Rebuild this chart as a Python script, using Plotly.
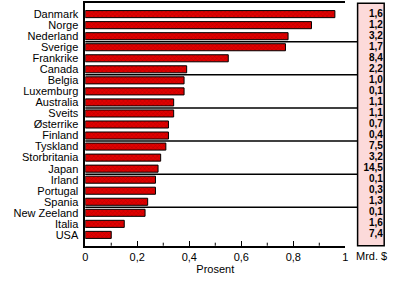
import plotly.graph_objects as go

countries = ["Danmark", "Norge", "Nederland", "Sverige", "Frankrike", "Canada", "Belgia",
             "Luxemburg", "Australia", "Sveits", "Østerrike", "Finland", "Tyskland",
             "Storbritania", "Japan", "Irland", "Portugal", "Spania", "New Zeeland",
             "Italia", "USA"]
prosent = [0.96, 0.87, 0.78, 0.77, 0.55, 0.39, 0.38, 0.38, 0.34, 0.34, 0.32, 0.32, 0.31,
           0.29, 0.28, 0.27, 0.27, 0.24, 0.23, 0.15, 0.10]
mrd = [1.6, 1.2, 3.2, 1.7, 8.4, 2.2, 1.0, 0.1, 1.1, 1.1, 0.7, 0.4, 7.5, 3.2, 14.5, 0.1,
       0.3, 1.3, 0.1, 1.6, 7.4]
x_ticks = [0, 0.2, 0.4, 0.6, 0.8, 1]
separators_after = [2, 5, 8, 11, 14, 17]

W, H = 400, 283
px = lambda v: v / W
py = lambda v: 1 - v / H

x0, x1 = 83.5, 347.5
bx0, bx1 = 360, 387
ytop, ybot = 3.3, 245.7

fig = go.Figure()
fig.add_trace(go.Bar(
    x=prosent, y=countries, orientation="h", width=0.64,
    marker=dict(color="#c80000", line=dict(color="black", width=1),
                pattern=dict(shape="x", fgcolor="#8a0000", bgcolor="#e00000", size=3, solidity=0.3)),
    showlegend=False, hoverinfo="skip"))
fig.add_trace(go.Scatter(
    x=[0.95] * len(mrd), y=countries, xaxis="x2", yaxis="y",
    mode="text", text=[f"{v:.1f}".replace(".", ",") for v in mrd],
    textposition="middle left",
    textfont=dict(family="Liberation Sans Narrow, Liberation Sans", size=10, color="black", weight="bold"),
    showlegend=False, hoverinfo="skip"))

shapes = []
shapes.append(dict(type="rect", xref="paper", yref="paper",
                   x0=px(bx0), x1=px(bx1), y0=py(ybot), y1=py(ytop),
                   fillcolor="#fcdada", line=dict(color="black", width=1.5), layer="below"))
for s in separators_after:
    shapes.append(dict(type="line", xref="paper", yref="y",
                       x0=px(x0), x1=px(bx0), y0=s + 0.5, y1=s + 0.5,
                       line=dict(color="black", width=1.5)))
for t in [0.1, 0.3, 0.5, 0.7, 0.9]:
    shapes.append(dict(type="line", xref="x", yref="paper", x0=t, x1=t,
                       y0=py(ybot), y1=py(ybot - 3), line=dict(color="black", width=1)))

fig.update_layout(
    width=W, height=H, margin=dict(l=0, r=0, t=0, b=0),
    paper_bgcolor="white", plot_bgcolor="white",
    separators=", ",
    font=dict(family="Liberation Sans", size=11, color="black"),
    xaxis=dict(domain=[px(x0), px(x1)], range=[0, 1], tickvals=x_ticks,
               ticks="inside", ticklen=5, tickwidth=1, tickcolor="black",
               showgrid=False, zeroline=False, showline=True, linecolor="black",
               linewidth=1.5, mirror=True,
               tickfont=dict(size=11),
               title=dict(text="Prosent", font=dict(size=11), standoff=4)),
    xaxis2=dict(domain=[px(bx0), px(bx1)], range=[0, 1], visible=False,
                anchor="y"),
    yaxis=dict(domain=[py(ybot), py(ytop)], range=[20.98, -0.98],
               type="category", categoryorder="array", categoryarray=countries,
               tickmode="array", tickvals=countries, ticktext=countries,
               showgrid=False, zeroline=False, ticks="", showline=True,
               linecolor="black", linewidth=1.5, ticklabelstandoff=3,
               tickfont=dict(size=11)),
    shapes=shapes,
    annotations=[dict(text="Mrd. $", xref="paper", yref="paper",
                      x=px((bx0 + bx1) / 2 + 1), y=py(256), xanchor="center",
                      yanchor="middle", showarrow=False, font=dict(size=11))],
)

fig.write_html("out.html")
